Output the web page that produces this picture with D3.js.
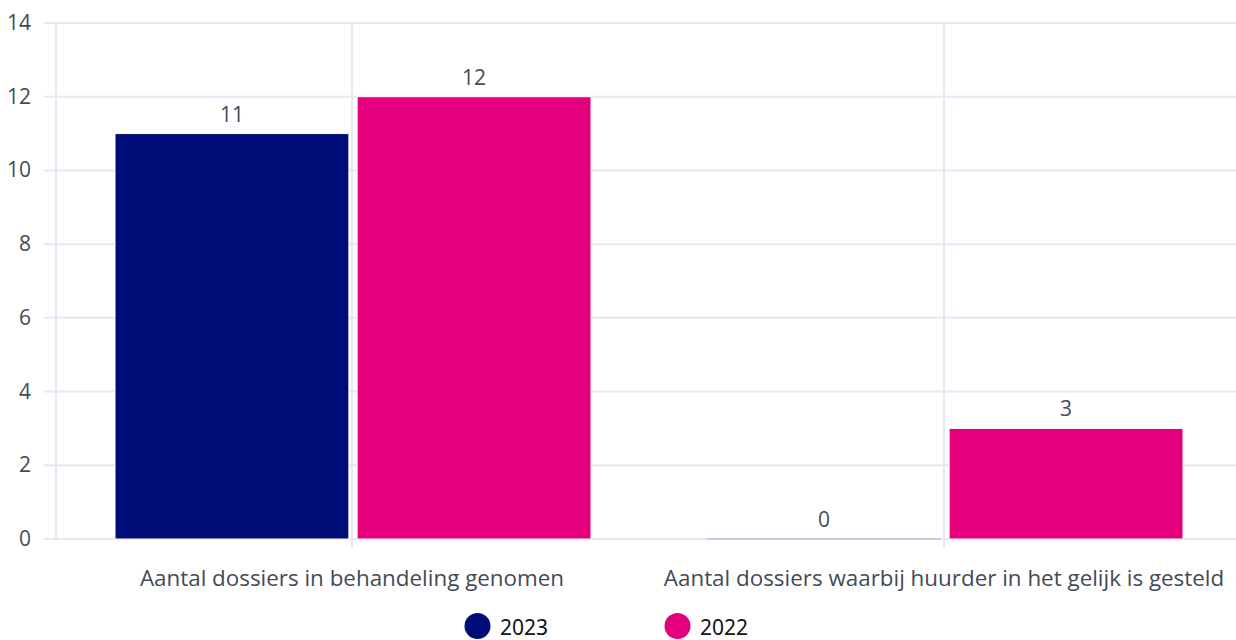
<!DOCTYPE html>
<html>
<head>
<meta charset="utf-8">
<script src="https://cdn.jsdelivr.net/npm/d3@7"></script>
<style>
  body { margin: 0; background: #fff; }
  svg { display: block; font-family: 'Open Sans', sans-serif; }
</style>
</head>
<body>
<svg width="1236" height="640"></svg>
<script>
var categories = ['Aantal dossiers in behandeling genomen', 'Aantal dossiers waarbij huurder in het gelijk is gesteld'];
var seriesNames = ['2023', '2022'];
var values2023 = [11, 0];
var values2022 = [12, 3];
var yTicks = [0, 2, 4, 6, 8, 10, 12, 14];

var colors = {'2023': '#000d78', '2022': '#e4007c'};
var gridColor = '#e5e8f3';
var textColor = '#444b57';

var svg = d3.select('svg');

var x0 = d3.scaleBand().domain(categories).range([56, 1240]).padding(0);
var bw = x0.bandwidth();
var x1 = d3.scaleBand().domain(seriesNames).range([59, 535]).paddingInner(0.034);
var y = d3.scaleLinear().domain([0, 14]).range([539, 23]);

// horizontal grid
svg.append('g').selectAll('line')
    .data(yTicks)
    .join('line')
    .attr('x1', 44).attr('x2', 1236)
    .attr('y1', function(d) { return y(d); })
    .attr('y2', function(d) { return y(d); })
    .attr('stroke', gridColor)
    .attr('stroke-width', 2);

// vertical grid: left edge + category centres
svg.append('line')
    .attr('x1', 56).attr('x2', 56)
    .attr('y1', y(14)).attr('y2', y(0))
    .attr('stroke', gridColor).attr('stroke-width', 2);

svg.append('g').selectAll('line')
    .data(categories)
    .join('line')
    .attr('x1', function(d) { return x0(d) + bw / 2; })
    .attr('x2', function(d) { return x0(d) + bw / 2; })
    .attr('y1', y(14)).attr('y2', y(0) + 9)
    .attr('stroke', gridColor)
    .attr('stroke-width', 2);

// y tick labels
svg.append('g').selectAll('text')
    .data(yTicks)
    .join('text')
    .attr('x', 31)
    .attr('y', function(d) { return y(d) + 7; })
    .attr('text-anchor', 'end')
    .attr('font-size', 21)
    .attr('fill', textColor)
    .text(function(d) { return d; });

var rows = [];
categories.forEach(function(c, i) {
    rows.push({cat: c, name: '2023', value: values2023[i]});
    rows.push({cat: c, name: '2022', value: values2022[i]});
});

// bars (a zero bar is only a faint line on the axis)
svg.append('g').selectAll('rect')
    .data(rows)
    .join('rect')
    .attr('x', function(d) { return x0(d.cat) + x1(d.name); })
    .attr('y', function(d) { return y(d.value) - (d.value === 0 ? 1 : 0); })
    .attr('width', x1.bandwidth())
    .attr('height', function(d) { return Math.max(y(0) - y(d.value), 2); })
    .attr('fill', function(d) { return colors[d.name]; })
    .attr('fill-opacity', function(d) { return d.value === 0 ? 0.12 : 1; })
    .attr('stroke', '#fff')
    .attr('stroke-width', function(d) { return d.value === 0 ? 0 : 1; });

// value labels
svg.append('g').selectAll('text')
    .data(rows)
    .join('text')
    .attr('x', function(d) { return x0(d.cat) + x1(d.name) + x1.bandwidth() / 2; })
    .attr('y', function(d) { return y(d.value) - 12; })
    .attr('text-anchor', 'middle')
    .attr('font-size', 21)
    .attr('fill', textColor)
    .text(function(d) { return d.value; });

// category labels
svg.append('g').selectAll('text')
    .data(categories)
    .join('text')
    .attr('x', function(d) { return x0(d) + bw / 2; })
    .attr('y', 586)
    .attr('text-anchor', 'middle')
    .attr('font-size', 22.4)
    .attr('fill', textColor)
    .text(function(d) { return d; });

// legend
var legendX = {'2023': 477.5, '2022': 677.5};
var legend = svg.append('g').selectAll('g')
    .data(seriesNames)
    .join('g')
    .attr('transform', function(d) { return 'translate(' + legendX[d] + ',626)'; });

legend.append('circle')
    .attr('r', 13)
    .attr('fill', function(d) { return colors[d]; });

legend.append('text')
    .attr('x', 22.5)
    .attr('y', 9)
    .attr('font-size', 21)
    .attr('fill', '#111')
    .style('font-family', "'Noto Sans', sans-serif")
    .text(function(d) { return d; });
</script>
</body>
</html>
